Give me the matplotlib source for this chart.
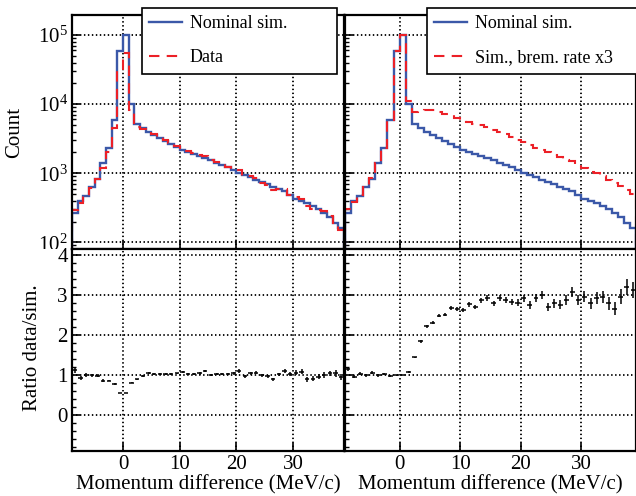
#!/usr/bin/env python3
# momentum difference: nominal sim vs data / brem x3, with ratio panels
import matplotlib
matplotlib.use("Agg")
import matplotlib.pyplot as plt
import numpy as np
from matplotlib.ticker import AutoMinorLocator, LogLocator, NullFormatter
from matplotlib.transforms import Bbox, TransformedBbox

plt.rcParams.update({
    'font.family': ['Liberation Serif', 'DejaVu Serif'],
    'mathtext.fontset': 'stix',
    'axes.linewidth': 1.6,
    'xtick.labelsize': 15,
    'ytick.labelsize': 15,
    'axes.labelsize': 15,
    'legend.fontsize': 13,
})

# bins of 1 MeV/c, lower edges -9 ... 38
bin_lo = -9
bin_hi = 39

nominal_sim = [265, 390, 470, 630, 830, 1390, 2330, 5900, 59000, 100000,
               10000, 5200, 4450, 4000, 3600, 3250, 2950, 2650, 2400, 2200,
               2050, 1900, 1780, 1650, 1540, 1420, 1320, 1220, 1110, 1020,
               940, 870, 800, 740, 690, 640, 590, 545, 480, 430,
               400, 370, 330, 300, 270, 230, 190, 160]

data_counts = [295, 365, 470, 620, 815, 1200, 2000, 4550, 32500, 55000,
               8100, 4650, 4350, 4200, 3650, 3350, 3050, 2700, 2500, 2300,
               2100, 1940, 1850, 1800, 1530, 1450, 1350, 1250, 1120, 1120,
               910, 900, 850, 730, 670, 570, 600, 600, 490, 450,
               430, 330, 300, 290, 280, 240, 190, 150]

brem_x3 = [300, 380, 480, 640, 850, 1400, 2350, 5950, 59000, 100000,
           11000, 7700, 8000, 8200, 8100, 7800, 7300, 6900, 6300, 5800,
           5500, 5200, 5000, 4700, 4200, 3950, 3700, 3300, 3000, 2800,
           2550, 2350, 2200, 2000, 1850, 1700, 1550, 1500, 1300, 1180,
           1050, 1000, 900, 800, 720, 650, 580, 500]

ratio_data = [1.12, 0.93, 1.00, 0.99, 0.98, 0.86, 0.86, 0.77, 0.55, 0.55,
              0.81, 0.89, 0.98, 1.05, 1.02, 1.03, 1.03, 1.02, 1.04, 1.08,
              1.03, 1.02, 1.04, 1.10, 1.00, 1.02, 1.02, 1.03, 1.04, 1.10,
              0.97, 1.04, 1.06, 0.99, 0.97, 0.89, 1.02, 1.10, 1.02, 1.06,
              1.08, 0.89, 0.91, 0.96, 1.00, 1.04, 1.04, 0.95]
ratio_data_err = [0.06, 0.05, 0.05, 0.04, 0.04, 0.03, 0.02, 0.02, 0.01, 0.01,
                  0.01, 0.02, 0.02, 0.02, 0.02, 0.02, 0.02, 0.02, 0.02, 0.03,
                  0.03, 0.03, 0.03, 0.03, 0.03, 0.03, 0.03, 0.03, 0.03, 0.04,
                  0.04, 0.04, 0.04, 0.04, 0.04, 0.04, 0.04, 0.04, 0.05, 0.06,
                  0.06, 0.06, 0.06, 0.06, 0.07, 0.07, 0.08, 0.08]

ratio_brem = [1.14, 0.96, 1.03, 0.99, 1.06, 0.99, 1.02, 0.97, 0.99, 1.00,
              1.08, 1.44, 1.84, 2.22, 2.31, 2.48, 2.51, 2.68, 2.65, 2.62,
              2.77, 2.70, 2.87, 2.92, 2.79, 2.93, 2.87, 2.83, 2.81, 2.92,
              2.76, 2.93, 3.00, 2.70, 2.79, 2.76, 2.87, 3.08, 2.87, 2.96,
              2.79, 2.92, 2.96, 2.79, 2.66, 2.96, 3.21, 3.13]
ratio_brem_err = [0.05, 0.04, 0.04, 0.03, 0.03, 0.03, 0.02, 0.02, 0.01, 0.01,
                  0.02, 0.02, 0.03, 0.04, 0.04, 0.04, 0.04, 0.05, 0.05, 0.05,
                  0.06, 0.06, 0.06, 0.07, 0.07, 0.07, 0.08, 0.08, 0.09, 0.09,
                  0.10, 0.10, 0.10, 0.11, 0.11, 0.12, 0.12, 0.13, 0.13, 0.14,
                  0.14, 0.15, 0.15, 0.16, 0.17, 0.18, 0.20, 0.20]

edges = np.arange(bin_lo, bin_hi + 1)
centers = 0.5 * (edges[:-1] + edges[1:])

blue = '#3b58a8'
red = '#ec2027'
grid_style = dict(color='k', linestyle=(0, (0.8, 1.4)), linewidth=1.3)
tick_params = {'direction': 'in', 'color': 'k'}

fig = plt.figure(figsize=(6.36, 4.96), dpi=100)
W, H = 636.0, 496.0
ax_tl = fig.add_axes([72 / W, 1 - 249 / H, 272 / W, 234 / H])
ax_bl = fig.add_axes([72 / W, 1 - 451 / H, 272 / W, 202 / H])
ax_tr = fig.add_axes([345 / W, 1 - 249 / H, 291 / W, 234 / H])
ax_br = fig.add_axes([345 / W, 1 - 451 / H, 291 / W, 202 / H])

# top panels
for ax, other, lab in [(ax_tl, data_counts, 'Data'),
                       (ax_tr, brem_x3, 'Sim., brem. rate x3')]:
    ax.stairs(nominal_sim, edges, color=blue, linewidth=1.7, label='Nominal sim.')
    ax.stairs(other, edges, color=red, linewidth=1.5, linestyle=(0, (5, 3.5)),
              label=lab)
    ax.set_yscale('log')
    ax.set_ylim(80, 1.95e5)
    ax.set_xlim(bin_lo, bin_hi)
    ax.set_xticks([0, 10, 20, 30])
    ax.tick_params(axis='x', labelbottom=False)
    ax.yaxis.set_major_locator(LogLocator(base=10, numticks=10))
    ax.yaxis.set_minor_locator(LogLocator(base=10, subs=np.arange(2, 10), numticks=10))
    ax.yaxis.set_minor_formatter(NullFormatter())
    ax.grid(True, which='major', **grid_style)
    ax.set_axisbelow(True)

# ratio panels
for ax, r, e in [(ax_bl, ratio_data, ratio_data_err),
                 (ax_br, ratio_brem, ratio_brem_err)]:
    ax.errorbar(centers, r, xerr=0.4, yerr=e, fmt='none', ecolor='k',
                elinewidth=1.1, capsize=0)
    ax.set_ylim(-0.9, 4.15)
    ax.set_xlim(bin_lo, bin_hi)
    ax.set_xticks([0, 10, 20, 30])
    ax.set_yticks([0, 1, 2, 3, 4])
    ax.yaxis.set_minor_locator(AutoMinorLocator(5))
    ax.grid(True, which='major', **grid_style)
    ax.set_axisbelow(True)
    ax.set_xlabel('Momentum difference (MeV/c)', labelpad=1)

for ax in [ax_tl, ax_bl, ax_tr, ax_br]:
    ax.tick_params(which='major', length=6, width=1.2, **tick_params)
    ax.tick_params(which='minor', length=3, width=1.0, **tick_params)
    ax.tick_params(axis='both', pad=3)

ax_tr.tick_params(axis='y', labelleft=False)
ax_br.tick_params(axis='y', labelleft=False)

ax_tl.set_ylabel('Count')
ax_tl.yaxis.set_label_coords(-0.175, 0.5)
ax_bl.set_ylabel('Ratio data/sim.')
ax_bl.yaxis.set_label_coords(-0.11, 0.51)

# ROOT-style legend boxes
leg_kw = dict(loc='upper left', mode='expand', fancybox=False, edgecolor='k',
              framealpha=1, borderpad=0.4, labelspacing=0.95,
              handlelength=1.8, handletextpad=0.45, borderaxespad=0,
              bbox_transform=fig.transFigure)
leg = ax_tl.legend(bbox_to_anchor=(142 / W, 1 - 8 / H - 0.01, 195 / W, 0.01), **leg_kw)
leg.get_frame().set_linewidth(1.2)
leg = ax_tr.legend(bbox_to_anchor=(427 / W, 1 - 8 / H - 0.01, 215 / W, 0.01), **leg_kw)
leg.get_frame().set_linewidth(1.2)

# the top pad cuts its own tick labels at the pad border, like ROOT does
fig.canvas.draw()
clip = TransformedBbox(Bbox([[0, 1 - 249 / H], [1, 1]]), fig.transFigure)
for t in ax_tl.get_yticklabels():
    t.set_clip_box(clip)
    t.set_clip_on(True)

plt.savefig('out.png', dpi=100)
